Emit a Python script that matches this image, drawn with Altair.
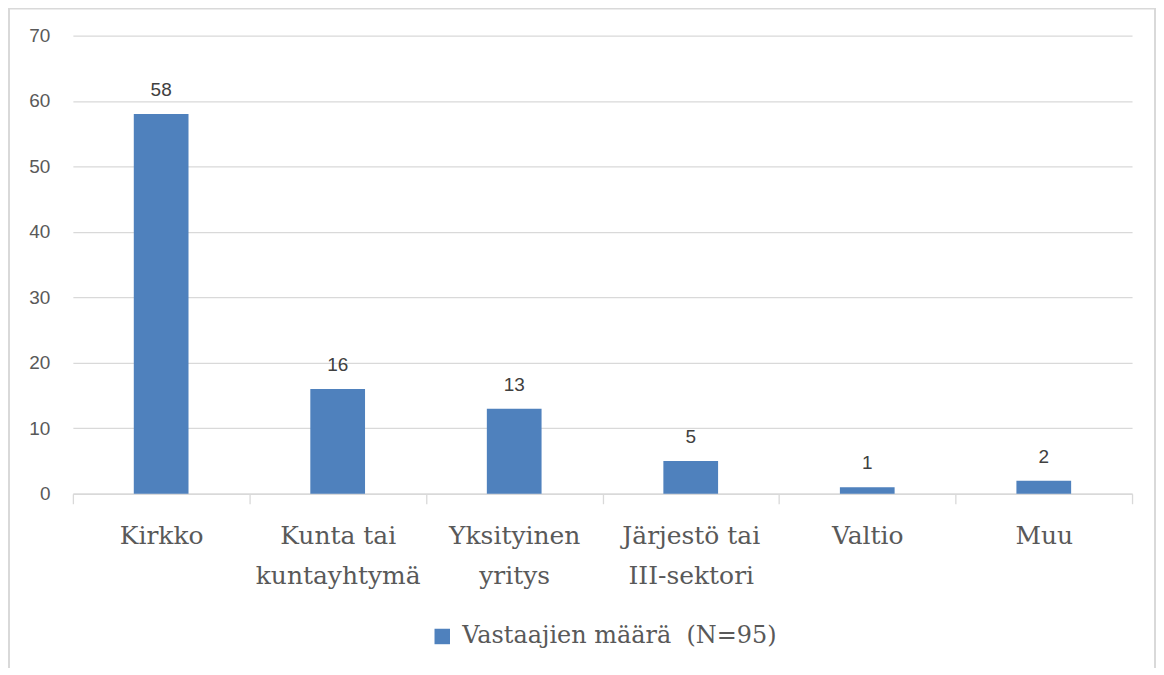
import altair as alt
import pandas as pd

categories = ["Kirkko", "Kunta tai|kuntayhtymä", "Yksityinen|yritys",
              "Järjestö tai|III-sektori", "Valtio", "Muu"]
values = [58, 16, 13, 5, 1, 2]
series_name = "Vastaajien määrä\u00a0 (N=95)"
y_ticks = [0, 10, 20, 30, 40, 50, 60, 70]

df = pd.DataFrame({"cat": categories, "val": values, "series": series_name})

W, H = 1061, 459
LEFT, TOP = 65, 27
TOTAL_W, TOTAL_H = 1150, 660
SERIF = "DejaVu Serif"

x_enc = alt.X("cat:N", sort=categories, title=None,
              scale=alt.Scale(paddingInner=0, paddingOuter=0),
              axis=alt.Axis(labelExpr="split(datum.label, '|')",
                            labelFont=SERIF, labelFontSize=25,
                            labelColor="#595959", labelAngle=0,
                            labelLineHeight=40, labelPadding=20,
                            labelBaseline="top",
                            domainColor="#D9D9D9", domainWidth=1.3,
                            tickColor="#D9D9D9", tickWidth=1.3, tickSize=10,
                            tickBand="extent", grid=False))
y_enc = alt.Y("val:Q", title=None,
              scale=alt.Scale(domain=[0, 70], nice=False),
              axis=alt.Axis(values=y_ticks, labelFont="Liberation Sans",
                            labelFontSize=19, labelColor="#595959",
                            labelPadding=23, ticks=False, domain=False,
                            gridColor="#D9D9D9", gridWidth=1.3))

bars = alt.Chart(df).mark_bar(color="#4F81BD",
                              width=alt.RelativeBandSize(0.31)).encode(
    x=x_enc, y=y_enc,
    color=alt.Color("series:N",
                    scale=alt.Scale(range=["#4F81BD"]),
                    legend=alt.Legend(title=None, orient="none",
                                      legendX=358, legendY=590,
                                      symbolType="square", symbolSize=240,
                                      symbolStrokeWidth=0,
                                      labelFont=SERIF, labelLimit=0,
                                      labelFontSize=24, labelColor="#595959",
                                      labelOffset=8)),
)

text = alt.Chart(df).mark_text(font="Liberation Sans", fontSize=19,
                               color="#404040", baseline="alphabetic",
                               dy=-18).encode(
    x=alt.X("cat:N", sort=categories),
    y="val:Q",
    text="val:Q",
)

border = alt.Chart(pd.DataFrame({"a": [0]})).mark_rect(
    fill=None, stroke="#D9D9D9", strokeWidth=2, clip=False).encode(
    x=alt.value(-LEFT + 1), x2=alt.value(TOTAL_W - LEFT - 1),
    y=alt.value(-TOP), y2=alt.value(TOTAL_H - TOP + 20),
)

chart = alt.layer(border, bars, text).properties(
    width=W, height=H,
    autosize=alt.AutoSizeParams(type="none"),
    padding={"left": LEFT, "top": TOP,
             "right": TOTAL_W - LEFT - W, "bottom": TOTAL_H - TOP - H},
).configure_view(stroke=None)

chart.save("out.html", embed_options={"renderer": "svg", "actions": False})
